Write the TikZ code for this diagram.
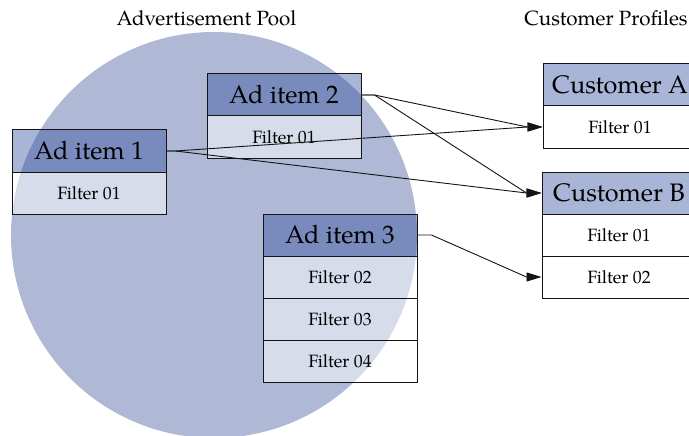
\documentclass[tikz,border=0pt]{standalone}
\usepackage{fontspec}
\setmainfont{TeX Gyre Pagella}
\usetikzlibrary{arrows.meta}
\definecolor{poolblue}{RGB}{175,185,214}
\definecolor{hdrblue}{RGB}{40,70,152}
\definecolor{edge}{RGB}{20,20,20}
\tikzset{
  cellbase/.style={rectangle, draw=edge, line width=1pt, minimum width=154pt,
    minimum height=42pt, inner sep=0pt, anchor=center},
  hdr/.style={cellbase, fill=hdrblue, fill opacity=0.4, text opacity=1,
    font=\fontsize{25.3}{27}\selectfont},
  cell/.style={cellbase, fill=white, fill opacity=0.5, text opacity=1,
    font=\fontsize{17.8}{19}\selectfont},
  heading/.style={font=\fontsize{20.6}{23}\selectfont, inner sep=0pt},
  link/.style={draw=edge, line width=0.9pt, -{Triangle[length=15pt,width=9pt]}},
}
\begin{document}
\begin{tikzpicture}[x=1pt,y=-1pt]
\useasboundingbox (0,0) rectangle (689,436);
\begin{scope}
\clip (0,0) rectangle (689,436);
% advertisement pool
\fill[poolblue] (214,235) circle (203);

\node[heading] (pooltitle) at (206.5,18) {Advertisement Pool};
\node[heading] (proftitle) at (606,18) {Customer Profiles};

% ad items
\node[hdr]  (ad1)   at (89,151) {Ad item 1};
\node[cell] (ad1f1) at (89,193) {Filter 01};

\node[hdr]  (ad2)   at (284,95) {Ad item 2};
\node[cell] (ad2f1) at (284,137) {Filter 01};

\node[hdr]  (ad3)   at (340,235) {Ad item 3};
\node[cell] (ad3f2) at (340,277) {Filter 02};
\node[cell] (ad3f3) at (340,319) {Filter 03};
\node[cell] (ad3f4) at (340,361) {Filter 04};

% customer profiles
\node[hdr]  (custA)   at (620,85) {Customer A};
\node[cell] (custAf1) at (620,127) {Filter 01};

\node[hdr]  (custB)   at (619,193) {Customer B};
\node[cell] (custBf1) at (619,235) {Filter 01};
\node[cell] (custBf2) at (619,277) {Filter 02};

% matches
\path[link] (ad1.east) -- ++(9,0) -- ([xshift=-15pt]custAf1.west) -- (custAf1.west);
\path[link] (ad1.east) -- ++(9,0) -- ([xshift=-15pt]custB.west) -- (custB.west);
\path[link] (ad2.east) -- ++(13,0) -- ([xshift=-15pt]custAf1.west) -- (custAf1.west);
\path[link] (ad2.east) -- ++(13,0) -- ([xshift=-15pt]custB.west) -- (custB.west);
\path[link] (ad3.east) -- ++(14,0) -- ([xshift=-15pt]custBf2.west) -- (custBf2.west);
\end{scope}
\end{tikzpicture}
\end{document}
